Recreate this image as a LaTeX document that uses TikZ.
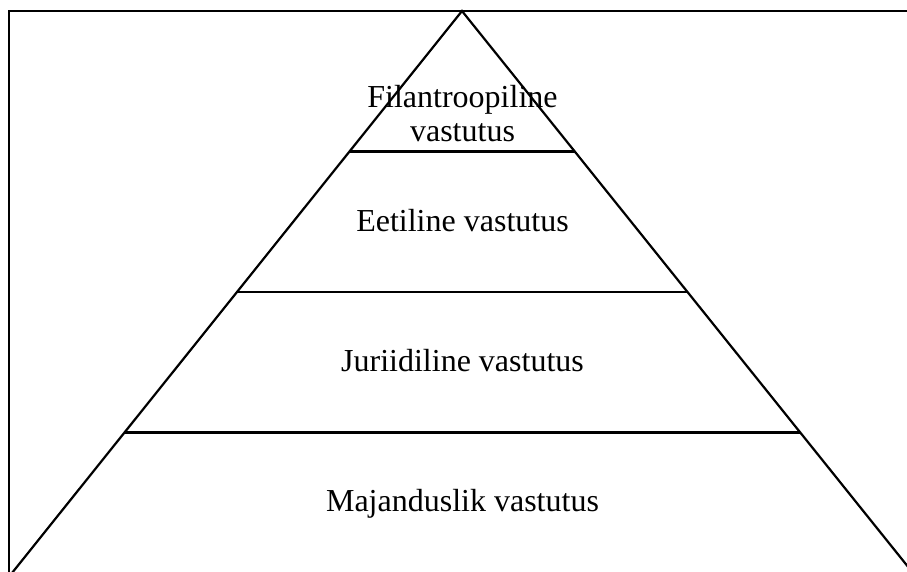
\documentclass[tikz,border=0pt]{standalone}
\usepackage{fontspec}
\setmainfont{Liberation Serif}
\usetikzlibrary{positioning,calc}
\tikzstyle{lvl}=[%
      draw=none, fill=none, align=center, inner sep=0pt,
      font=\fontsize{16}{17}\selectfont, anchor=base
]
\tikzstyle{ln}=[draw=black, line width=1.1pt]

\begin{document}
\begin{tikzpicture}[x=0.5pt,y=-0.5pt]
    \useasboundingbox (0,0) rectangle (907,572);
    \coordinate (apex)  at (462,11);
    \coordinate (baseL) at (12,573);
    \coordinate (baseR) at (913,573);
    \coordinate (frL)   at (9,573);
    \coordinate (frC)   at (9,11);
    \coordinate (frR)   at (907,11);

    % frame
    \draw[ln] (frL) -- (frC) -- (frR);
    % pyramid
    \draw[ln] (baseL) -- (apex) -- (baseR);
    \foreach \t/\n in {0.25/1, 0.5/2, 0.75/3} {
      \coordinate (sepL\n) at ($(apex)!\t!(baseL)$);
      \coordinate (sepR\n) at ($(apex)!\t!(baseR)$);
      \draw[ln] (sepL\n) -- (sepR\n);
    }

    \node[lvl] (fil) at (462.5,142) {Filantroopiline\\vastutus};
    \node[lvl] (eet) at (462.5,232) {Eetiline vastutus};
    \node[lvl] (jur) at (462.5,372) {Juriidiline vastutus};
    \node[lvl] (maj) at (462.5,512) {Majanduslik vastutus};
\end{tikzpicture}
\end{document}
